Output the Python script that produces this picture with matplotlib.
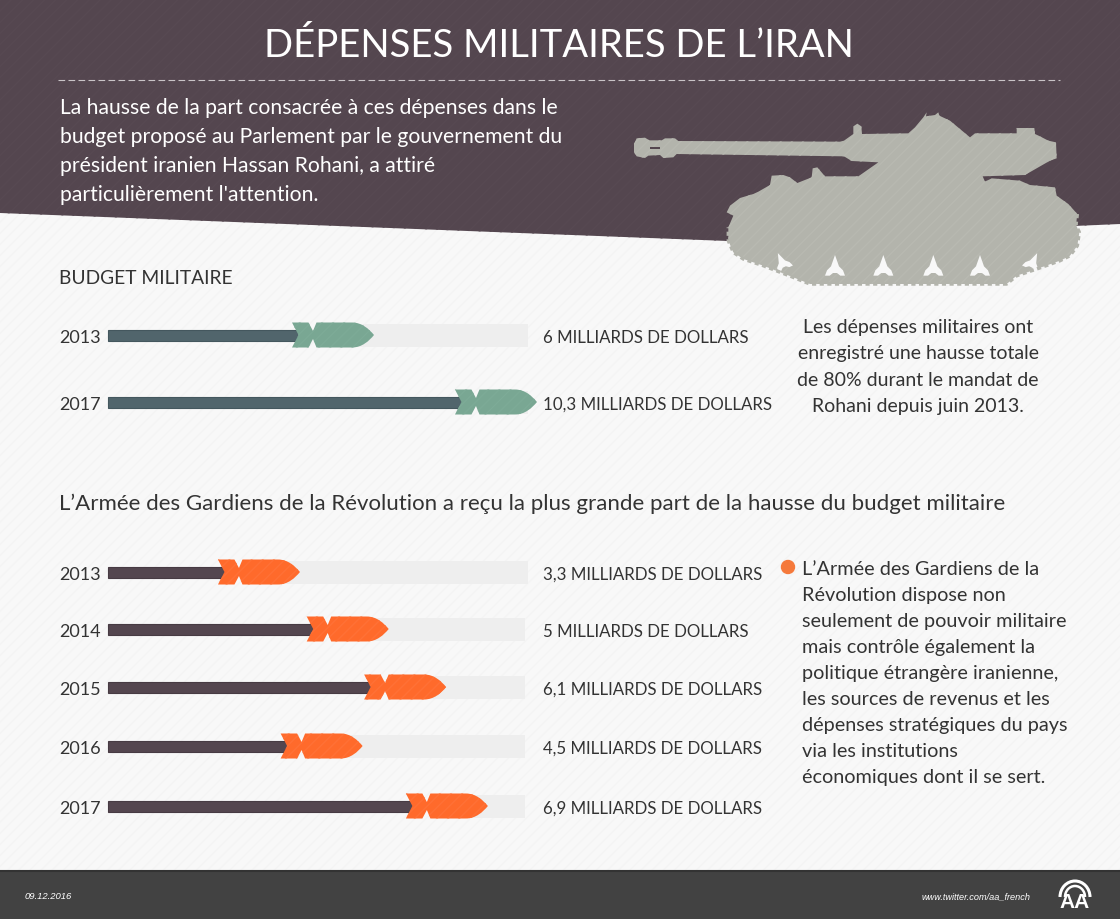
import matplotlib
matplotlib.use("Agg")
import matplotlib.pyplot as plt
import numpy as np
from matplotlib.patches import Arc, Polygon, PathPatch, Rectangle, Circle
from matplotlib.path import Path
from matplotlib.transforms import ScaledTranslation

plt.rcParams["font.family"] = ["Lato", "DejaVu Sans"]
plt.rcParams["hatch.linewidth"] = 1.0

# data
budget_years = ["2013", "2017"]
budget_values = [6, 10.3]
budget_labels = ["6 MILLIARDS DE DOLLARS", "10,3 MILLIARDS DE DOLLARS"]

guards_years = ["2013", "2014", "2015", "2016", "2017"]
guards_values = [3.3, 5, 6.1, 4.5, 6.9]
guards_labels = [
    "3,3 MILLIARDS DE DOLLARS",
    "5 MILLIARDS DE DOLLARS",
    "6,1 MILLIARDS DE DOLLARS",
    "4,5 MILLIARDS DE DOLLARS",
    "6,9 MILLIARDS DE DOLLARS",
]

intro_lines = [
    "La hausse de la part consacrée à ces dépenses dans le",
    "budget proposé au Parlement par le gouvernement du",
    "président iranien Hassan Rohani, a attiré",
    "particulièrement l'attention.",
]
side_top_lines = [
    "Les dépenses militaires ont",
    "enregistré une hausse totale",
    "de 80% durant le mandat de",
    "Rohani depuis juin 2013.",
]
side_bottom_lines = [
    "L’Armée des Gardiens de la",
    "Révolution dispose non",
    "seulement de pouvoir militaire",
    "mais contrôle également la",
    "politique étrangère iranienne,",
    "les sources de revenus et les",
    "dépenses stratégiques du pays",
    "via les institutions",
    "économiques dont il se sert.",
]

W, H = 1120, 920
DARK = "#54464f"
TEXT = "#333333"
PAPER = "#f8f8f8"

fig = plt.figure(figsize=(W / 100, H / 100), dpi=100)
bg = fig.add_axes([0, 0, 1, 1])
bg.set_xlim(0, W)
bg.set_ylim(H, 0)
bg.axis("off")

# background with the faint diagonal stripes
bg.add_patch(Rectangle((0, 0), W, H, facecolor=PAPER, edgecolor="#f4f4f4", hatch="///", lw=0))
bg.add_patch(Polygon([(0, 0), (W, 0), (W, 225), (728, 242), (0, 214)], facecolor=DARK, edgecolor="#574952", hatch="///", lw=0))

# footer
bg.add_patch(Rectangle((0, 872), W, 48, facecolor="#424242", lw=0))
bg.plot([0, W], [872, 872], color="#333333", lw=1.5)
bg.text(25, 897, "09.12.2016", color="white", fontsize=6.8, style="italic", family="Liberation Sans", va="center")
bg.text(1031, 897, "www.twitter.com/aa_french", color="white", fontsize=6.6, style="italic", family="Liberation Sans", va="center", ha="right")
# logo
bg.add_patch(Arc((1075, 898), 30, 32, theta1=180, theta2=360, color="white", lw=2.2))
bg.add_patch(Arc((1075, 898), 20, 22, theta1=180, theta2=360, color="white", lw=1.8))
bg.text(1075, 903, "AA", color="white", fontsize=15, weight="bold", family="Liberation Sans", ha="center", va="center")

# title
bg.text(559, 46, "DÉPENSES MILITAIRES DE L’IRAN", color="white", fontsize=27.5, ha="center", va="center")
bg.plot([58, 1060], [81, 81], color="#c9c4c7", lw=0.8, dashes=(6, 3))
for line, y in zip(intro_lines, [108, 137, 166, 195]):
    bg.text(60, y, line, color="white", fontsize=15.25, va="center")

# tank, traced in zoom coordinates of a 3x crop starting at (620, 100)
tank_outline = np.array([
    (42, 135), (50, 118), (75, 116), (88, 124), (125, 124), (135, 118), (165, 118), (175, 126),
    (660, 128), (672, 125), (700, 105), (700, 82), (712, 74), (724, 82), (726, 105), (865, 103),
    (885, 85), (910, 55), (920, 40), (918, 52), (945, 48), (955, 40), (958, 50), (990, 65),
    (1020, 90), (1050, 115), (1065, 103), (1190, 103), (1190, 87), (1243, 87), (1245, 105),
    (1260, 112), (1285, 125), (1308, 130), (1310, 178), (1290, 185), (1215, 228), (1088, 232),
    (1095, 248), (1115, 238), (1200, 245), (1230, 258), (1305, 265), (1310, 290), (1345, 315),
    (1372, 345), (1368, 378), (1378, 400), (1372, 440), (1350, 470), (1320, 485), (1250, 510),
    (1190, 530), (1160, 555), (570, 555), (520, 535), (430, 500), (370, 480), (340, 460),
    (325, 425), (325, 385), (340, 350), (320, 340), (330, 320), (360, 297), (400, 285),
    (415, 278), (450, 258), (455, 230), (490, 228), (510, 235), (532, 252), (575, 235),
    (578, 208), (592, 205), (615, 232), (715, 232), (775, 190), (695, 186), (672, 172),
    (170, 165), (160, 175), (130, 177), (120, 168), (85, 170), (75, 177), (50, 172), (42, 160),
], dtype=float)


def tank_xy(pts):
    return np.array(pts, dtype=float) / 3 + (620, 100)


TANK = "#b3b4ac"
bg.add_patch(Polygon(tank_xy(tank_outline), facecolor=TANK, edgecolor="#b8b9b1", hatch="///", lw=0))
# scalloped track edge
track_edge = tank_xy(tank_outline[45:61])
bg.plot(track_edge[:, 0], track_edge[:, 1], color=TANK, lw=2.5, dashes=(1.2, 1.0))
bg.add_patch(Rectangle((649.5, 147.5), 10, 2.5, facecolor=DARK, lw=0))
flame = np.array([(-30, 30), (-24, 14), (-12, 2), (0, -32), (12, 2), (24, 14), (30, 30),
                  (16, 30), (6, 22), (-6, 22), (-16, 30)])
for cx in [645, 790, 940, 1080]:
    bg.add_patch(Polygon(tank_xy(flame + (cx, 500)), facecolor=PAPER, lw=0))
for cx, rot in [(485, -25), (1240, 25)]:
    a = np.radians(rot)
    r = np.array([[np.cos(a), -np.sin(a)], [np.sin(a), np.cos(a)]])
    bg.add_patch(Polygon(tank_xy(flame @ r.T * 0.85 + (cx, 487)), facecolor=PAPER, lw=0))

# head of the missile in pixels, tip at the origin
head_verts = [
    (-82, -12.5), (-65.5, -12.5), (-61, -4), (-57.5, -12.5), (-22, -12.5),
    (-12, -12.5), (-5, -6), (0, 0), (-5, 6), (-12, 12.5), (-22, 12.5), (-57.5, 12.5),
    (-61, 4), (-65.5, 12.5), (-82, 12.5), (-75.5, 0), (-82, -12.5),
]
head_codes = [
    Path.MOVETO, Path.LINETO, Path.LINETO, Path.LINETO, Path.LINETO,
    Path.CURVE4, Path.CURVE4, Path.CURVE4, Path.CURVE4, Path.CURVE4, Path.CURVE4, Path.LINETO,
    Path.LINETO, Path.LINETO, Path.LINETO, Path.LINETO, Path.CLOSEPOLY,
]
head_path = Path(head_verts, head_codes)


def draw_panel(years, values, labels, rows, slope, offset, track_ends, shaft, edge, head, hatch_col, label_x=543):
    # x scale of the panel: pixel = offset + slope * value
    ax = fig.add_axes([108 / W, 0, 420 / W, 1])
    ax.set_xlim((108 - offset) / slope, (528 - offset) / slope)
    ax.set_ylim(H, 0)
    ax.axis("off")
    ax.patch.set_alpha(0)
    x0 = ax.get_xlim()[0]
    for year, value, label, y, end in zip(years, values, labels, rows, track_ends):
        # the grey track only shows beyond the head
        track_left = value - 40 / slope
        ax.barh(y, (end - offset) / slope - track_left, left=track_left, height=23, color="#eeeeee", lw=0, zorder=1, clip_on=False)
        tail = value - 72 / slope
        ax.barh(y, tail - x0, left=x0, height=11, color=shaft, edgecolor=edge, lw=0.8, zorder=2, clip_on=False)
        trans = ScaledTranslation(value, y, ax.transData)
        ax.add_patch(PathPatch(head_path, facecolor=head, edgecolor=hatch_col, hatch="///", lw=0, transform=trans, zorder=3, clip_on=False))
        bg.text(59, y + 2, year, color=TEXT, fontsize=13, va="center")
        bg.text(label_x, y + 2, label, color=TEXT, fontsize=12.2, va="center")


bg.text(59, 279, "BUDGET MILITAIRE", color=TEXT, fontsize=13.9, va="center")
draw_panel(budget_years, budget_values, budget_labels, [336, 403], 37.9, 146.6, [528, 528],
           "#51656c", "#44575e", "#79a793", "#7dab97")

bg.text(59, 504, "L’Armée des Gardiens de la Révolution a reçu la plus grande part de la hausse du budget militaire",
        color=TEXT, fontsize=16.05, va="center")
draw_panel(guards_years, guards_values, guards_labels, [573, 630, 688, 747, 807], 52.2, 127.7,
           [528, 525, 525, 525, 525], "#54464f", "#473b43", "#ff6a2b", "#ff7136")

# side notes
for line, y in zip(side_top_lines, [328, 354, 381, 407]):
    bg.text(918, y, line, color=TEXT, fontsize=14.05, ha="center", va="center")
bg.add_patch(Circle((788, 568), 6.5, color="#f5793b"))
for i, line in enumerate(side_bottom_lines):
    bg.text(802, 570 + i * 26, line, color=TEXT, fontsize=14.3, va="center")

fig.savefig("out.png", dpi=100)
